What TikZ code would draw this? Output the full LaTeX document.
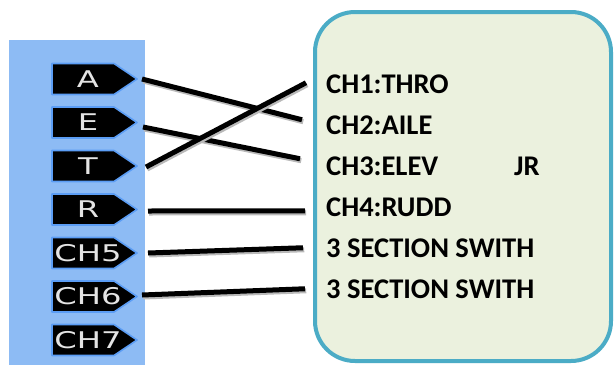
\documentclass[tikz,border=0pt]{standalone}
\usepackage{fontspec}
\setmainfont{Carlito}
\newfontfamily\tagfont{DejaVu Sans}
\definecolor{panelblue}{HTML}{8DBBF4}
\definecolor{glowblue}{HTML}{5B9DF5}
\definecolor{boxfill}{HTML}{EBF1DE}
\definecolor{boxline}{HTML}{4BACC6}
\definecolor{tagwhite}{HTML}{E4E4E4}
\tikzset{
  tagbody/.style={fill=black, draw=glowblue, line width=1.6pt, line join=round},
  tagtext/.style={anchor=base, inner sep=0pt, text=tagwhite,
    font=\tagfont\fontsize{23}{25}\selectfont},
  chtext/.style={anchor=base west, inner sep=0pt,
    font=\bfseries\fontsize{28.5}{32}\selectfont},
  wire/.style={line width=5pt, black,
    preaction={draw=gray!55, line width=5pt,
      transform canvas={xshift=1.2pt,yshift=-2pt}}}
}
\begin{document}
\begin{tikzpicture}[x=1pt,y=-1pt]
\useasboundingbox (0,0) rectangle (614,365);
\fill[white] (0,0) rectangle (614,365);
% blue panel
\fill[panelblue] (9,40) rectangle (145,365);
% tags
\foreach \n/\t/\y in {A/A/79, E/E/122.5, T/T/166, R/R/209.5, C5/CH5/253, C6/CH6/296.5, C7/CH7/340}{
  \path[tagbody] (52,\y-15.5) -- (114,\y-15.5) -- (137,\y) -- (114,\y+15.5) -- (52,\y+15.5) -- cycle;
  \coordinate (p\n) at (137,\y);
  \node[tagtext] (l\n) at (88,\y+8.3) {\scalebox{1.4}[1]{\t}};
}
% right box
\draw[boxline, fill=boxfill, line width=4pt, rounded corners=40pt] (315,12) rectangle (611,361);
\node[chtext] (c1) at (326,93) {CH1:THRO};
\node[chtext] (c2) at (326,134) {CH2:AILE};
\node[chtext] (c3) at (326,175) {CH3:ELEV};
\node[chtext] (jr) at (514,175) {JR};
\node[chtext] (c4) at (326,216) {CH4:RUDD};
\node[chtext] (c5) at (326,257) {3 SECTION SWITH};
\node[chtext] (c6) at (326,298) {3 SECTION SWITH};
% wires
\draw[wire] ([shift={(5,0)}]pA) -- ([shift={(-24,-5)}]c2.west);
\draw[wire] ([shift={(6,4.5)}]pE) -- ([shift={(-26,-7)}]c3.west);
\draw[wire] ([shift={(9,1)}]pT) -- ([shift={(-20,-1)}]c1.west);
\draw[wire] ([shift={(11,1.5)}]pR) -- ([shift={(-21,4)}]c4.west);
\draw[wire] ([shift={(11,0)}]pC5) -- ([shift={(-23,0)}]c5.west);
\draw[wire] ([shift={(5,-1.5)}]pC6) -- ([shift={(-21,0)}]c6.west);
\end{tikzpicture}
\end{document}
